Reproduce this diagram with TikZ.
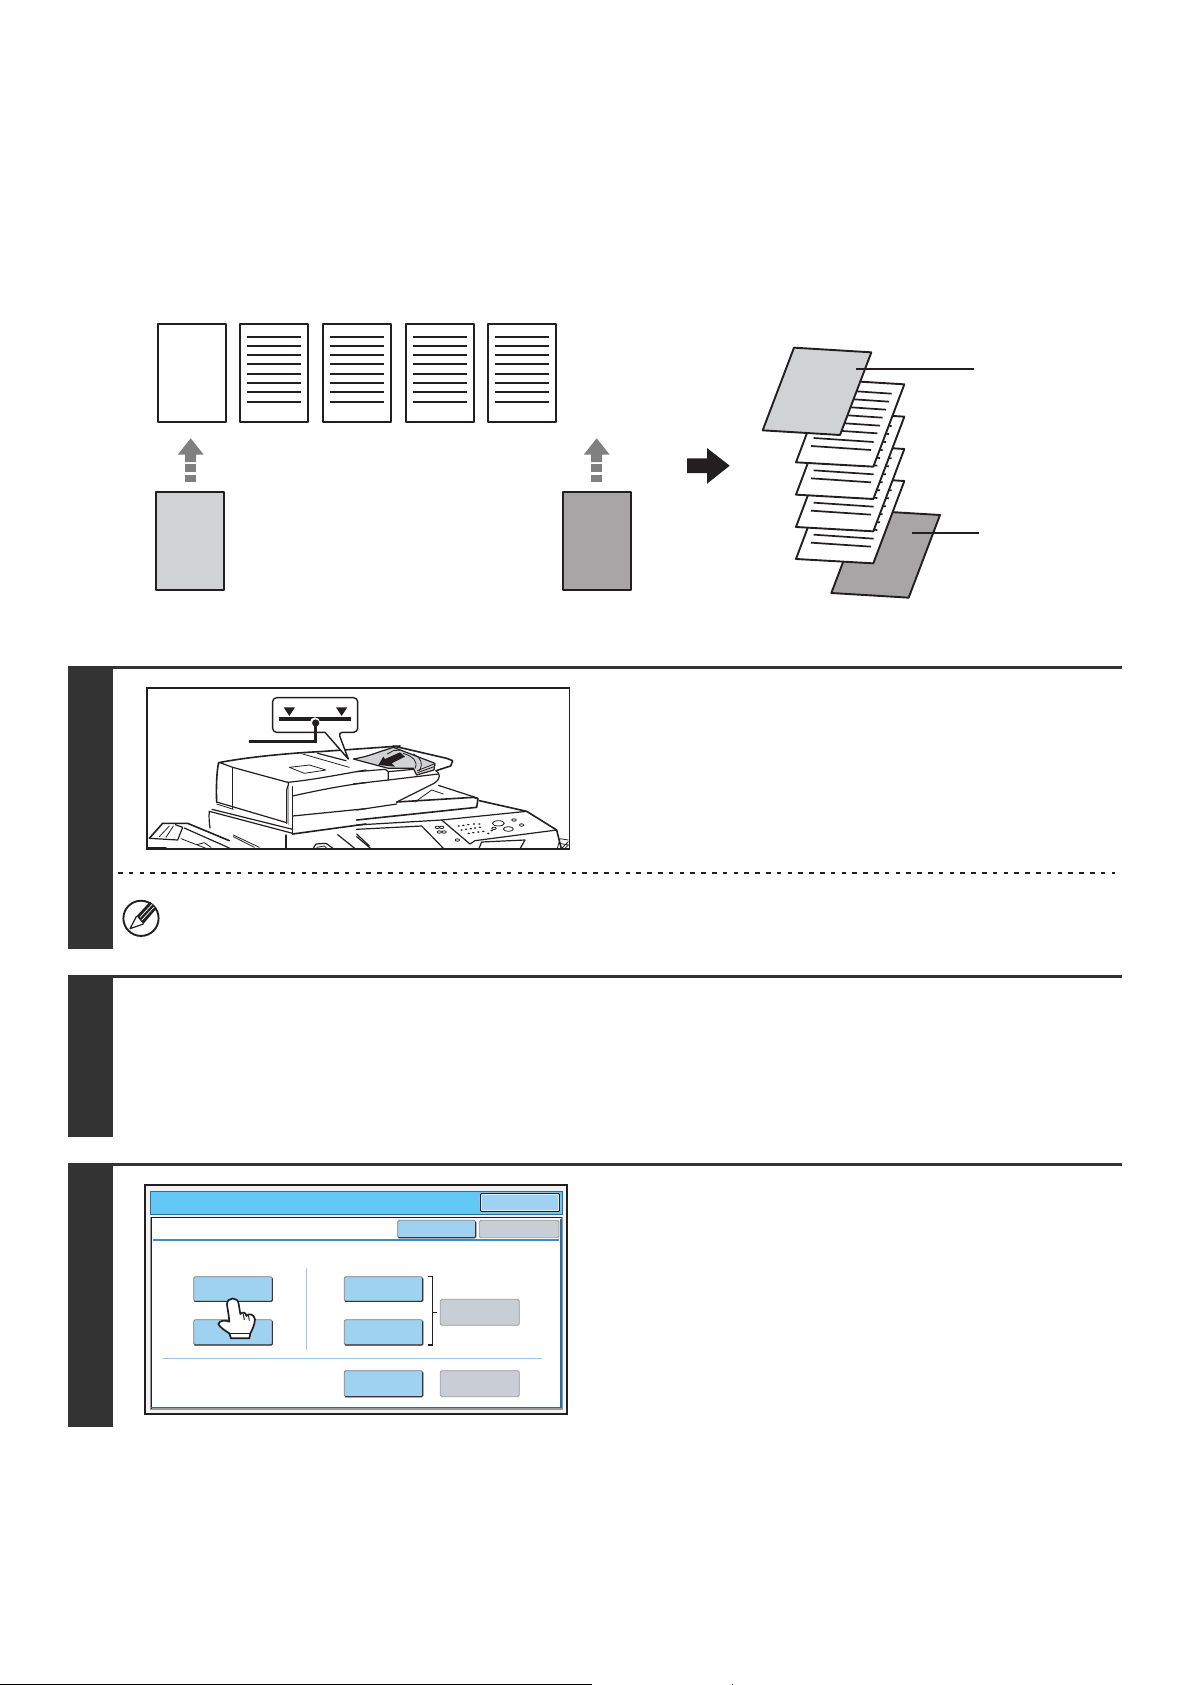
\documentclass[tikz,border=0pt]{standalone}
\usetikzlibrary{calc}
\definecolor{ink}{HTML}{231F20}
\definecolor{side}{HTML}{333333}
\definecolor{lightsheet}{HTML}{D1D2D3}
\definecolor{darksheet}{HTML}{A7A5A6}
\definecolor{uparrow}{HTML}{808080}
\definecolor{titleblue}{HTML}{62C9F5}
\definecolor{btnblue}{HTML}{9FD1F1}
\definecolor{btngray}{HTML}{C9CDD6}
\definecolor{rulestrong}{HTML}{3D8CC4}
\definecolor{rulesoft}{HTML}{9CC6E4}
\definecolor{frameblue}{HTML}{2E6A9E}
\tikzset{
  sheet/.style={draw=ink,line width=1.9pt,line join=round},
  textline/.style={draw=ink,line width=1.7pt},
  thin sketch/.style={draw=ink,line width=0.8pt,line cap=round,line join=round},
  mid sketch/.style={draw=ink,line width=1.2pt,line cap=round,line join=round},
  heavy sketch/.style={draw=ink,line width=1.6pt,line cap=round,line join=round},
  screenbtn/.style={rounded corners=1.5pt,line width=0.8pt,draw=#1},
  screenbtn/.default={gray},
}
\newcommand{\flatpage}[3]{% left, top, fill
  \filldraw[sheet,fill=#3] (#1,#2) rectangle ++(68.6,97.9);}
\newcommand{\linedpage}[2]{% left, top
  \filldraw[sheet,fill=white] (#1,#2) rectangle ++(68.6,97.9);
  \foreach \yy in {12.7,21.7,30.7,39.7,49.7,58.7,67.7,77.7}
    \draw[textline] (#1+7.6,#2+\yy) -- ++(53.7,0);}
\newcommand{\gupfrom}[1]{% centre x
  \fill[uparrow] (#1,438.3) -- (#1+13,454.7) -- (#1+5.5,454.7) -- (#1+5.5,462) -- (#1-5.5,462) -- (#1-5.5,454.7) -- (#1-13,454.7) -- cycle;
  \fill[uparrow] (#1-5.5,464) rectangle (#1+5.5,471.7);
  \fill[uparrow] (#1-5.5,475) rectangle (#1+5.5,482);}
\newcommand{\scrbtn}[5]{% x1 y1 x2 y2 fill  (blue, dark lower edge)
  \filldraw[screenbtn={gray},fill=#5] (#1,#2) rectangle (#3,#4);
  \draw[line width=1.1pt,draw=ink!90,line cap=round] (#1+1,#4) -- (#3-1,#4) -- (#3,#4-1) -- (#3,#2+2);}
\newcommand{\scrgray}[4]{% x1 y1 x2 y2
  \filldraw[screenbtn={gray!80},fill=btngray] (#1,#2) rectangle (#3,#4);}
\begin{document}
\begin{tikzpicture}[x=1pt,y=-1pt]
\useasboundingbox (0,0) rectangle (1191,1685);
\fill[white] (0,0) rectangle (1191,1685);

% --- top row of pages
\flatpage{157.7}{324.3}{white}
\linedpage{239.7}{324.3}
\linedpage{322.7}{324.3}
\linedpage{405.7}{324.3}
\linedpage{487.7}{324.3}
\flatpage{155.7}{492.4}{lightsheet}
\flatpage{562.7}{492.4}{darksheet}
\gupfrom{190.7}
\gupfrom{596.7}

% --- big arrow
\fill[ink] (687,458.3) -- (707,458.3) -- (707,448) -- (729.7,465.7) -- (707,483.7) -- (707,473) -- (687,473) -- cycle;

% --- stack of sheets
\begin{scope}[shift={(670,320)},x=0.33333pt,y=-0.33333pt]
  \filldraw[sheet,fill=darksheet] (578,571) -- (810,585) -- (716,833) -- (484,819) -- cycle;
  \foreach \off in {290,194,97,0}{
    \begin{scope}[yshift=-\off*0.33333pt]
      \filldraw[sheet,fill=white] (471,179) -- (703,193) -- (610,440) -- (378,427) -- cycle;
      \foreach \rx/\ry in {665/221,657/245,648/269,638/293,630/317,622/340,611/366,603/390}
        \draw[ink,line width=1.7pt] (\rx,\ry) -- (\rx-180,\ry-12);
    \end{scope}
  }
  \filldraw[sheet,fill=lightsheet] (372,83) -- (604,97) -- (510,345) -- (278,331) -- cycle;
  \draw[ink,line width=1.7pt] (558,147) -- (912,147);
  \draw[ink,line width=1.7pt] (726,638) -- (928,638);
\end{scope}

% --- section bars
\fill[side] (68,666) rectangle (113,949);
\fill[side] (68,666) rectangle (1122,669);
\fill[side] (68,975) rectangle (113,1137);
\fill[side] (68,975) rectangle (1122,978);
\fill[side] (68,1163) rectangle (113,1427);
\fill[side] (68,1163) rectangle (1122,1166);

% --- dashed separator
\draw[ink,line width=1.7pt,dash pattern=on 4.6pt off 6.2pt] (118,873.3) -- (1115,873.3);

% --- machine picture
\begin{scope}
  \clip (146.7,687.7) rectangle (569.5,849.3);
  % left half, zoom coordinates
  \begin{scope}[shift={(146,740)},x=0.33333pt,y=-0.33333pt]
    \draw[heavy sketch] (218,68) .. controls (300,52) and (420,40) .. (520,35) -- (762,18);
    \draw[heavy sketch] (218,68) .. controls (212,90) and (210,150) .. (212,186);
    \draw[mid sketch] (212,186) -- (422,248);
    \draw[thin sketch] (212,192) -- (262,208);
    \draw[thin sketch] (260,82) -- (260,206);
    \draw[mid sketch] (222,68) -- (260,82) -- (425,127);
    \draw[mid sketch] (425,127) .. controls (432,128) and (424,140) .. (422,150) -- (422,250);
    \draw[gray!70,line width=1.5pt] (428,140) -- (428,255);
    \draw[mid sketch] (425,127) .. controls (500,120) and (600,100) .. (660,90);
    \draw[mid sketch] (440,168) .. controls (520,150) and (600,135) .. (660,128);
    \draw[mid sketch] (440,140) -- (440,282);
    \draw[mid sketch] (440,228) -- (660,206);
    \draw[heavy sketch] (440,282) -- (660,252);
    \draw[thin sketch] (430,82) -- (490,75) -- (540,90) -- (475,100) -- cycle;
    \draw[thin sketch] (470,42) -- (610,82);
    \draw[mid sketch] (515,40) -- (600,62);
    % lower body
    \draw[mid sketch] (198,208) -- (440,268);
    \draw[mid sketch] (190,214) .. controls (188,230) and (190,250) .. (192,264);
    \draw[mid sketch] (190,214) -- (440,280);
    % left tray
    \draw[heavy sketch] (10,295) -- (50,250) -- (125,250) -- (250,302);
    \draw[mid sketch] (10,295) -- (95,300) -- (110,262) -- (88,254);
    \draw[mid sketch] (115,264) -- (250,324);
    \draw[thin sketch] (40,290) -- (70,258);
    \draw[thin sketch] (60,292) -- (82,258);
    \draw[mid sketch] (0,322) -- (60,322);
    \draw[thin sketch] (105,296) -- (180,325);
    \draw[thin sketch] (152,314) -- (175,308) -- (195,322);
    \draw[thin sketch] (262,285) -- (340,322);
    \draw[thin sketch] (262,290) -- (325,322);
    \draw[mid sketch] (420,285) -- (420,330);
    \draw[mid sketch] (500,328) -- (510,312) -- (540,310) -- (565,328);
    \draw[thin sketch] (512,322) -- (535,318) -- (545,328);
    \draw[mid sketch] (575,284) -- (630,328);
    \draw[mid sketch] (632,282) -- (670,318);
  \end{scope}
  % right half
  \begin{scope}[shift={(360,740)},x=0.33333pt,y=-0.33333pt]
    \draw[heavy sketch] (100,18) -- (260,55) -- (278,62) -- (272,78) -- (228,92);
    \draw[mid sketch,fill=lightsheet] (-20,57) .. controls (20,50) and (40,42) .. (60,35) -- (100,22) -- (225,70) -- (222,90) -- (170,105) -- (160,85) -- (85,85) -- cycle;
    \draw[thin sketch] (130,40) .. controls (160,50) and (175,65) .. (165,85);
    \draw[thin sketch] (160,42) .. controls (185,55) and (190,70) .. (178,92);
    \draw[thin sketch] (172,92) -- (222,72);
    \draw[thin sketch] (173,98) -- (222,80);
    \fill[ink] (55,75) -- (70,50) -- (75,57) -- (120,37) -- (135,50) -- (95,70) -- (105,80) -- cycle;
    \draw[thin sketch] (82,42) -- (100,32) -- (122,30);
    \draw[mid sketch] (-10,95) -- (75,88) -- (85,95) -- (160,88);
    \draw[mid sketch] (85,95) -- (85,120) -- (235,102);
    \draw[mid sketch] (-20,132) -- (85,120);
    \draw[mid sketch] (228,92) .. controls (240,100) and (245,115) .. (222,130) -- (110,186);
    \draw[heavy sketch] (110,186) -- (340,172) -- (354,176) -- (350,202) -- (-10,240);
    \draw[mid sketch] (-10,210) -- (110,192);
    \draw[thin sketch] (165,186) -- (215,150) -- (250,162);
    \draw[mid sketch] (235,136) -- (352,174);
    \draw[heavy sketch] (358,182) -- (500,214) -- (590,270) -- (605,330);
    % panel
    \draw[mid sketch] (-10,255) -- (245,240) -- (500,214);
    \draw[mid sketch] (245,240) -- (330,312) -- (345,302) -- (590,270);
    \draw[mid sketch] (-10,268) -- (185,258) -- (255,330);
    \draw[mid sketch] (-10,290) -- (35,328);
    \draw[mid sketch] (355,330) -- (365,306) -- (495,300) -- (478,330);
    \foreach \kx/\ky in {232/262,245/262,238/276,252/276,292/300,462/240,485/255,402/265}
      \draw[thin sketch] (\kx,\ky) ellipse (2.2pt and 1.2pt);
    \foreach \kx/\ky in {296/258,310/256,325/254,342/252,358/252,305/270,318/268,332/266,345/264,360/262,326/280,340/278,355/276,370/274,385/280,395/272}
      \fill[ink] (\kx,\ky) ellipse (1.4pt and 0.8pt);
    \draw[thin sketch] (415,250) ellipse (18 and 8);
    \draw[thin sketch] (445,267) ellipse (15 and 7);
    \draw[thin sketch] (592,325) -- (600,296) -- (625,300);
    \draw[thin sketch] (598,310) -- (625,315);
    \draw[thin sketch] (605,325) -- (625,305);
    \draw[thin sketch] (615,325) -- (625,315);
  \end{scope}
\end{scope}
\draw[ink,line width=1.9pt] (146.7,687.7) rectangle (569.5,849.3);

% --- callout
\begin{scope}[shift={(60,660)},x=0.33333pt,y=-0.33333pt]
  \filldraw[draw=ink,line width=1.4pt,fill=white,rounded corners=4pt,line join=round]
    (638,113) -- (893,113) -- (893,217) -- (835,217) [sharp corners] -- (865,297) -- (795,217) [rounded corners=4pt] -- (638,217) -- cycle;
  \fill[ink] (671,142) -- (705,142) -- (688,168) -- cycle;
  \fill[ink] (828,142) -- (862,142) -- (845,168) -- cycle;
  \draw[ink,line width=3.4pt] (657,177) -- (873,177);
  \fill[white] (765,187) circle (5pt);
  \draw[ink,line width=3pt] (567,243) -- (767,243) -- (767,190);
  \fill[ink] (767,189) circle (3.6pt);
  % note icon
  \draw[ink,line width=1.9pt] (243,775) circle (17.6pt);
  \fill[ink] (230,768) -- (270,725) -- (290,745) -- (250,792) -- cycle;
  \draw[white,line width=0.7pt] (240,772) -- (276,733);
  \draw[white,line width=0.7pt] (245,781) -- (282,741);
  \draw[ink,line width=1.2pt,line join=round] (230,768) -- (210,806) -- (250,792);
\end{scope}

% --- screen
\filldraw[draw=ink,line width=2pt,fill=white!90!gray] (144.7,1185) rectangle (567.3,1414);
\filldraw[draw=frameblue,line width=1pt,fill=titleblue] (150.7,1191) rectangle (562.3,1214.3);
\filldraw[draw=gray!80,line width=1.5pt,fill=white] (150.7,1217.7) rectangle (562,1409);
\draw[ink,line width=1pt] (151,1409) -- (151,1217.7) -- (562,1217.7);
\draw[frameblue,line width=1.4pt] (151,1407.5) -- (561,1407.5) -- (561,1219);
\filldraw[rounded corners=2pt,draw=white,line width=2pt,fill=btnblue] (480.7,1193.7) rectangle (559.3,1211.3);
\draw[rounded corners=2pt,draw=ink,line width=1pt] (480.3,1193.3) rectangle (559.7,1211.7);
\scrbtn{397.7}{1220.3}{475.7}{1237.7}{btnblue}
\scrgray{479.3}{1220.3}{559}{1237.7}
\draw[rulestrong,line width=1.6pt] (153.3,1240) -- (559,1240);
\scrbtn{193.7}{1276.7}{272.3}{1301.3}{btnblue}
\scrbtn{193.7}{1319.7}{272.3}{1345}{btnblue}
\scrbtn{344.3}{1276.7}{422.7}{1301.3}{btnblue}
\scrbtn{344.3}{1319.7}{422.7}{1345}{btnblue}
\scrgray{440.3}{1299.3}{519.3}{1325.3}
\scrbtn{344.3}{1370.7}{422.7}{1396.7}{btnblue}
\scrgray{440.3}{1370.7}{519.3}{1396.7}
\draw[rulesoft,line width=0.9pt] (306.3,1268.3) -- (306.3,1350.3);
\draw[rulesoft,line width=0.9pt] (163.3,1358.3) -- (541.7,1358.3);
\begin{scope}[shift={(130,1170)},x=0.33333pt,y=-0.33333pt]
  \draw[ink,line width=1.1pt] (895,319) -- (907,319) -- (907,525) -- (895,525);
  \draw[ink,line width=1.1pt] (907,427) -- (920,427);
  % hand
  \filldraw[ink,line width=1.7pt,fill=white,line join=round,draw=ink]
    (303,505) -- (298,490) .. controls (285,482) and (270,472) .. (265,462)
    .. controls (270,450) and (285,450) .. (298,455)
    .. controls (296,430) and (292,415) .. (291,402)
    .. controls (292,380) and (325,380) .. (326,402)
    -- (331,432) .. controls (340,424) and (348,428) .. (349,438)
    .. controls (356,428) and (372,432) .. (375,448)
    .. controls (374,465) and (366,480) .. (361,490) -- (358,505) -- cycle;
  \draw[ink,line width=1.4pt] (298,490) -- (361,490);
  \draw[ink,line width=1pt] (340,432) -- (343,450);
  \draw[ink,line width=1pt] (355,434) -- (358,452);
\end{scope}

% --- bottom edge
\fill[black] (0,1684) rectangle (592,1685);
\fill[ink] (731.7,1684) rectangle (732.7,1685);
\end{tikzpicture}
\end{document}
